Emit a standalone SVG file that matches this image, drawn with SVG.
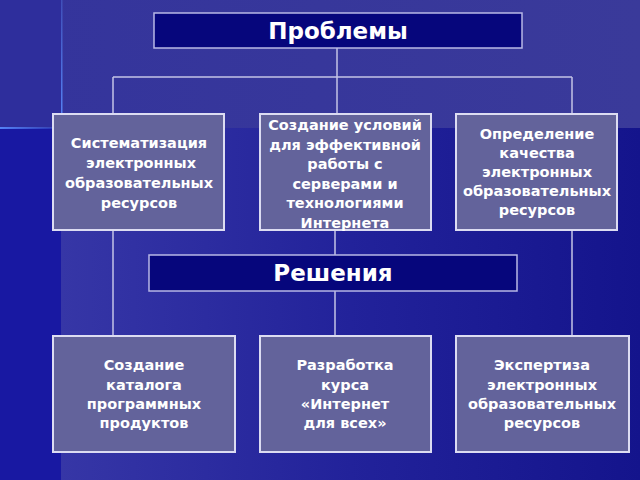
<svg xmlns="http://www.w3.org/2000/svg" width="640" height="480" viewBox="0 0 640 480">
<defs>
<linearGradient id="lower" x1="0" y1="0" x2="1" y2="0">
<stop offset="0" stop-color="#3636a6"/>
<stop offset="0.5" stop-color="#22229a"/>
<stop offset="1" stop-color="#14148c"/>
</linearGradient>
<linearGradient id="top" x1="0" y1="0" x2="1" y2="0">
<stop offset="0" stop-color="#34349c"/>
<stop offset="1" stop-color="#3a3a9a"/>
</linearGradient>
<linearGradient id="glowH" x1="0" y1="0" x2="1" y2="0">
<stop offset="0" stop-color="#5a8cff" stop-opacity="0.9"/>
<stop offset="1" stop-color="#5a8cff" stop-opacity="0.2"/>
</linearGradient>
<linearGradient id="glowV" x1="0" y1="0" x2="0" y2="1">
<stop offset="0" stop-color="#5a8cff" stop-opacity="0.3"/>
<stop offset="1" stop-color="#5a8cff" stop-opacity="0.9"/>
</linearGradient>
</defs>
<style>
.hdr{fill:#06067c;stroke:#b8b8e6;stroke-width:1.5}
.box{fill:#63639b;stroke:#dcdcf2;stroke-width:2}
.con{stroke:#c4c4e6;stroke-width:1.5;fill:none}
.t{font-family:"DejaVu Sans","Liberation Sans",sans-serif;font-weight:bold;fill:#ffffff;text-anchor:middle;font-size:14.5px}
.h{font-size:23px}
</style>
<rect x="0" y="0" width="640" height="480" fill="#1a1a98"/>
<rect x="61" y="128" width="579" height="352" fill="url(#lower)"/>
<rect x="0" y="128" width="61" height="352" fill="#1818a2"/>
<rect x="0" y="0" width="640" height="128" fill="url(#top)"/>
<rect x="0" y="0" width="61" height="128" fill="#2e2e9c"/>
<rect x="0" y="127" width="56" height="2" fill="url(#glowH)"/>
<rect x="61" y="0" width="1.5" height="120" fill="url(#glowV)"/>
<g id="connectors">
<path class="con" d="M337 48V114M113 77H572M113 77V114M572 77V114"/>
<path class="con" d="M113 230V336M335 230V255M335 291V336M572 230V336"/>
</g>
<g id="problems">
<rect class="hdr" x="154" y="13" width="368" height="35"/>
<text class="t h" x="338" y="39">Проблемы</text>
</g>
<g id="solutions">
<rect class="hdr" x="149" y="255" width="368" height="36"/>
<text class="t h" x="333" y="281">Решения</text>
</g>
<g id="p1">
<rect class="box" x="53" y="114" width="171" height="116"/>
<text class="t" x="139" y="148">Систематизация</text>
<text class="t" x="141" y="168">электронных</text>
<text class="t" x="139" y="188">образовательных</text>
<text class="t" x="139" y="208">ресурсов</text>
</g>
<g id="p2">
<rect class="box" x="260" y="114" width="171" height="116"/>
<text class="t" x="345" y="130">Создание условий</text>
<text class="t" x="345" y="149.5">для эффективной</text>
<text class="t" x="345" y="169">работы с</text>
<text class="t" x="345" y="188.5">серверами и</text>
<text class="t" x="345" y="208">технологиями</text>
<text class="t" x="345" y="227.5">Интернета</text>
</g>
<g id="p3">
<rect class="box" x="456" y="114" width="161" height="116"/>
<text class="t" x="537" y="139">Определение</text>
<text class="t" x="537" y="158">качества</text>
<text class="t" x="537" y="177">электронных</text>
<text class="t" x="537" y="196">образовательных</text>
<text class="t" x="537" y="215">ресурсов</text>
</g>
<g id="s1">
<rect class="box" x="53" y="336" width="182" height="116"/>
<text class="t" x="144" y="370">Создание</text>
<text class="t" x="144" y="390">каталога</text>
<text class="t" x="144" y="409">программных</text>
<text class="t" x="144" y="428">продуктов</text>
</g>
<g id="s2">
<rect class="box" x="260" y="336" width="171" height="116"/>
<text class="t" x="345" y="370">Разработка</text>
<text class="t" x="345" y="390">курса</text>
<text class="t" x="345" y="409">«Интернет</text>
<text class="t" x="345" y="428">для всех»</text>
</g>
<g id="s3">
<rect class="box" x="456" y="336" width="173" height="116"/>
<text class="t" x="542" y="370">Экспертиза</text>
<text class="t" x="542" y="390">электронных</text>
<text class="t" x="542" y="409">образовательных</text>
<text class="t" x="542" y="428">ресурсов</text>
</g>
</svg>
